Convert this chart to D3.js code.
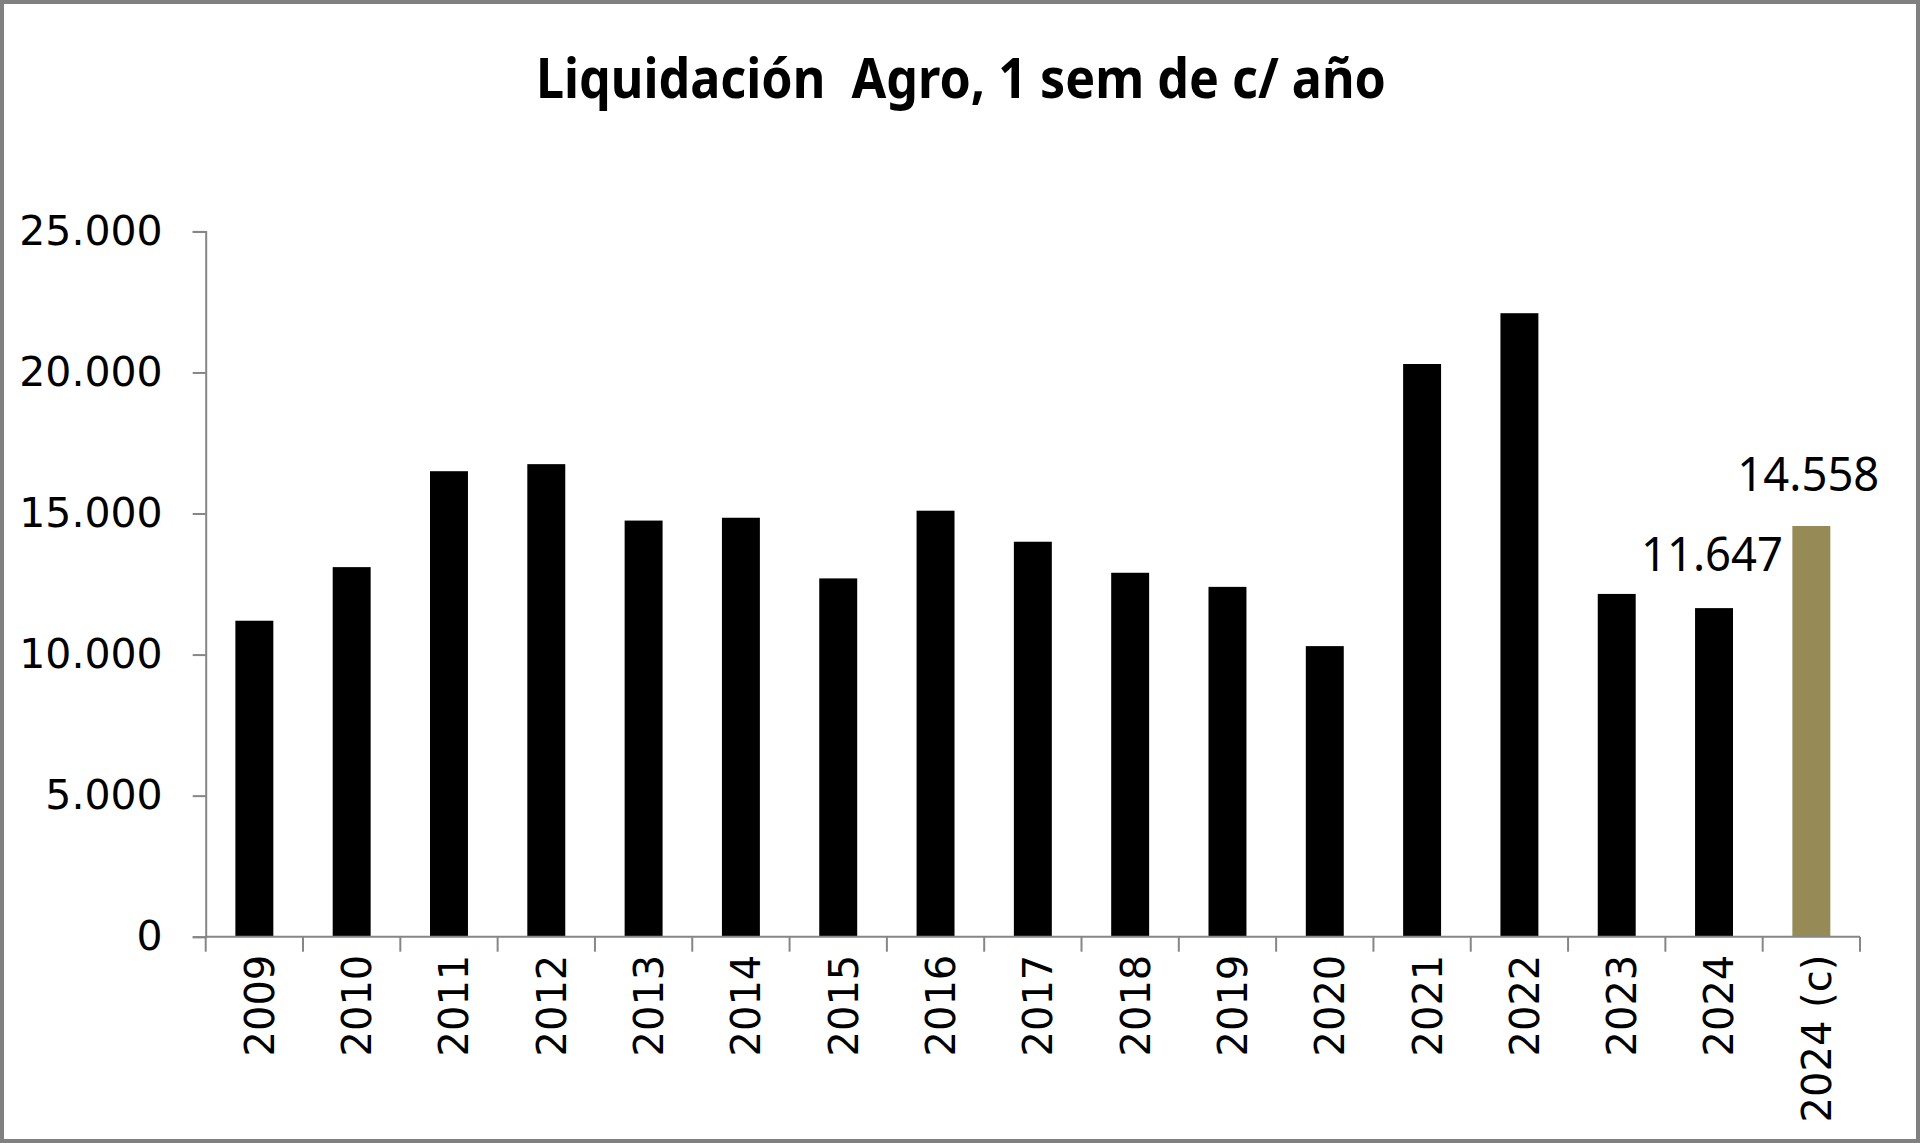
<!DOCTYPE html>
<html><head><meta charset="utf-8">
<script src="https://cdn.jsdelivr.net/npm/d3@7"></script>
<style>html,body{margin:0;padding:0;background:#fff;}svg{display:block;}</style>
</head><body>
<svg id="chart" width="1920" height="1143"></svg>
<script>
const categories = ["2009","2010","2011","2012","2013","2014","2015","2016","2017","2018","2019","2020","2021","2022","2023","2024","2024 (c)"];
const values = [11200,13100,16500,16750,14750,14850,12700,15100,14000,12900,12400,10300,20300,22100,12150,11647,14558];
const yTicks = [0,5000,10000,15000,20000,25000];
const labelled = {"2024":"11.647","2024 (c)":"14.558"};
const chartTitle = "Liquidación  Agro, 1 sem de c/ año";

(function(){
const svg = d3.select("#chart");
const W = 1920, H = 1143;
const mLeft = 205.7, mRight = 1860, mTop = 231.4, mBottom = 936.7;
const axisColor = "#868686";

svg.append("rect").attr("x",2).attr("y",2).attr("width",W-4).attr("height",H-4)
  .attr("fill","#fff").attr("stroke","#808080").attr("stroke-width",4);

const x = d3.scaleBand().domain(categories).range([mLeft,mRight]).padding(0);
const y = d3.scaleLinear().domain([0,25000]).range([mBottom,mTop]);
const loc = d3.formatLocale({decimal:",",thousands:".",grouping:[3],currency:["$",""]});
const fmt = loc.format(",d");

// title
svg.append("text").attr("x",961).attr("y",98).attr("text-anchor","middle")
  .attr("font-family","'Noto Sans', sans-serif").attr("font-weight","bold")
  .attr("font-size",55).attr("textLength",850).attr("lengthAdjust","spacingAndGlyphs")
  .style("white-space","pre").attr("xml:space","preserve")
  .text(chartTitle);

// y axis
const yAxis = svg.append("g").attr("transform",`translate(${mLeft},0)`)
  .call(d3.axisLeft(y).tickValues(yTicks).tickFormat(fmt).tickSize(13).tickPadding(30));
yAxis.select(".domain").attr("stroke",axisColor).attr("stroke-width",2);
yAxis.selectAll(".tick line").attr("stroke",axisColor).attr("stroke-width",2);
yAxis.selectAll(".tick text").attr("font-family","'DejaVu Sans', sans-serif")
  .attr("font-size",41).attr("fill","#000");

// bars
const bw = x.step()*0.39;
svg.append("g").selectAll("rect").data(categories).join("rect")
  .attr("x",d=>x(d)+x.bandwidth()/2-bw/2)
  .attr("width",bw)
  .attr("y",(d,i)=>y(values[i]))
  .attr("height",(d,i)=>y(0)-y(values[i]))
  .attr("fill",d=>d==="2024 (c)"?"#968b57":"#000");

// x axis
const xg = svg.append("g");
xg.append("line").attr("x1",mLeft).attr("x2",mRight).attr("y1",mBottom).attr("y2",mBottom)
  .attr("stroke",axisColor).attr("stroke-width",2);
const bounds = categories.map(c=>x(c)).concat([mRight]);
xg.selectAll("line.tk").data(bounds).join("line").attr("class","tk")
  .attr("x1",d=>d).attr("x2",d=>d).attr("y1",mBottom).attr("y2",mBottom+15)
  .attr("stroke",axisColor).attr("stroke-width",2);
xg.selectAll("text").data(categories).join("text")
  .attr("transform",d=>`translate(${x(d)+x.bandwidth()/2+5},${mBottom+18}) rotate(-90)`)
  .attr("text-anchor","end").attr("dy","0.36em")
  .attr("font-family","'DejaVu Sans', sans-serif").attr("font-size",40).attr("fill","#000")
  .text(d=>d);

// data labels
const lab = svg.append("g").attr("font-family","'Noto Sans', sans-serif").attr("font-size",47).attr("fill","#000");
lab.append("text").attr("x",x("2024")+x.bandwidth()/2-73).attr("y",y(values[15])-37)
  .attr("textLength",142).attr("lengthAdjust","spacingAndGlyphs").text(labelled["2024"]);
lab.append("text").attr("x",x("2024 (c)")+x.bandwidth()/2-74).attr("y",y(values[16])-35)
  .attr("textLength",142).attr("lengthAdjust","spacingAndGlyphs").text(labelled["2024 (c)"]);
})();
</script>
</body></html>
